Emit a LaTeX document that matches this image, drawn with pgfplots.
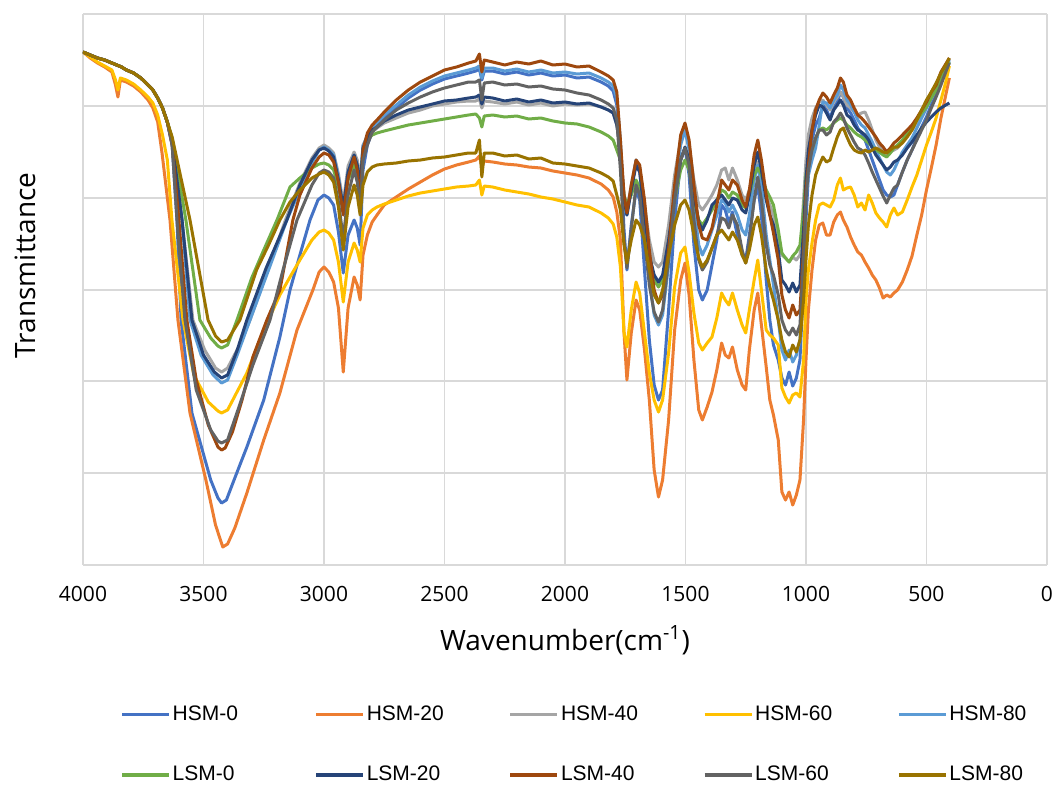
\documentclass[border=0pt]{standalone}
\usepackage{fontspec}
\setmainfont{Open Sans}
\newfontfamily\legendfont{Liberation Sans}
\usepackage{pgfplots}
\pgfplotsset{compat=1.18}
\definecolor{cA}{HTML}{4472C4}
\definecolor{cB}{HTML}{ED7D31}
\definecolor{cC}{HTML}{A5A5A5}
\definecolor{cD}{HTML}{FFC000}
\definecolor{cE}{HTML}{5B9BD5}
\definecolor{cF}{HTML}{70AD47}
\definecolor{cG}{HTML}{264478}
\definecolor{cH}{HTML}{9E480E}
\definecolor{cI}{HTML}{636363}
\definecolor{cJ}{HTML}{997300}
\definecolor{gridc}{HTML}{D9D9D9}
\begin{document}
\begin{tikzpicture}
\useasboundingbox (-41.5pt,-111pt) rectangle (486pt,282.5pt);
\begin{axis}[
  at={(0,0)}, anchor=south west,
  scale only axis, width=482pt, height=275.5pt,
  xmin=0, xmax=4000, x dir=reverse,
  ymin=14, ymax=565, y dir=reverse,
  xtick={0,500,1000,1500,2000,2500,3000,3500,4000},
  xticklabels={0,500,1000,1500,2000,2500,3000,3500,4000},
  ytick={14,106,198,290,381,473,565},
  yticklabels={,,,,,,},
  major tick length=0pt,
  grid=major,
  major grid style={gridc, line width=0.6pt},
  axis line style={draw=none},
  xticklabel style={font=\fontsize{10.5}{12}\selectfont, yshift=-7pt},
  xlabel={Wavenumber(cm\textsuperscript{-1})},
  ylabel={Transmittance},
  xlabel style={font=\fontsize{14}{16}\selectfont, at={(axis description cs:0.5,0)}, anchor=center, yshift=-37.5pt},
  ylabel style={font=\fontsize{14}{16}\selectfont, at={(axis description cs:0,0.544)}, anchor=center, yshift=29pt},
  legend columns=5,
  legend style={at={(axis description cs:0.0384,-0.2505)}, anchor=north west, draw=none, fill=none,
    inner sep=0pt, font=\legendfont\fontsize{10.5}{12}\selectfont,
    column sep=0pt, row sep=19.5pt, nodes={inner sep=1pt}},
  legend image code/.code={\draw[#1, line width=1.6pt] (0pt,0pt) -- (23.5pt,0pt);},
  every axis plot/.append style={line width=1.5pt, line join=round, mark=none},
]
% HSM-0
\addplot[cA] coordinates {(4000,52) (3970,55) (3940,58) (3910,60) (3880,63) (3860,65) (3840,67) (3820,70) (3790,73) (3760,78) (3730,85) (3710,90) (3690,98) (3670,108) (3650,122) (3630,145) (3610,220) (3593,320) (3548,413) (3470,480) (3440,498) (3425,503) (3405,500) (3370,478) (3320,447) (3250,400) (3183,337) (3141,290) (3100,255) (3058,220) (3025,200) (3000,195) (2980,198) (2960,205) (2940,232) (2920,273) (2900,235) (2875,220) (2862,228) (2850,245) (2838,170) (2820,145) (2800,132) (2780,127) (2750,118) (2700,108) (2650,98) (2600,90) (2550,84) (2500,79) (2450,76) (2400,73) (2370,71) (2355,69) (2345,80) (2335,71) (2300,71) (2250,74) (2200,72) (2150,75) (2100,73) (2050,76) (2000,75) (1950,78) (1900,77) (1850,82) (1820,86) (1800,91) (1785,105)
(1770,150) (1755,230) (1743,270) (1725,225) (1705,190) (1690,200) (1670,270) (1650,340) (1630,385) (1612,400) (1595,390) (1570,310) (1545,220) (1520,160) (1502,148) (1485,175) (1465,245) (1445,290) (1430,300) (1410,290) (1390,265) (1370,240) (1350,205) (1335,210) (1320,223) (1305,212) (1285,235) (1265,255) (1250,260) (1235,235) (1215,200) (1200,185) (1185,215) (1165,280) (1150,320) (1135,345) (1115,360) (1100,378) (1085,385) (1070,372) (1055,386) (1040,378) (1025,360) (1010,280) (1000,220) (990,175) (975,140) (960,125) (945,118)
(930,105) (915,110) (900,118) (885,108) (870,102) (857,92) (845,97) (830,108) (815,113) (800,120) (785,128) (770,133) (755,140) (740,150) (725,160) (710,170) (695,180) (680,190) (665,195) (650,197) (635,195) (620,185) (600,172) (580,160) (560,150) (540,138) (520,127) (500,117) (480,105) (460,95) (440,82) (420,70) (405,62)};
\addlegendentry{\makebox[70pt][l]{HSM-0}}
% HSM-20
\addplot[cB] coordinates {(4000,52) (3970,58) (3940,63) (3910,67) (3880,72) (3865,85) (3855,97) (3845,80) (3820,82) (3790,86) (3760,92) (3730,100) (3710,108) (3690,122) (3672,153) (3639,220) (3606,320) (3556,413) (3490,480) (3450,525) (3420,547) (3400,544) (3370,528) (3320,493) (3250,440) (3183,393) (3112,330) (3046,290) (3020,272) (3000,267) (2980,272) (2960,282) (2940,308) (2920,372) (2900,308) (2875,277) (2862,285) (2850,300) (2838,255) (2820,235) (2800,222) (2780,215) (2750,205) (2700,197) (2650,189) (2600,182) (2550,175) (2500,169) (2450,165) (2400,162) (2370,160) (2355,156) (2345,167) (2335,161) (2300,162) (2250,164) (2200,165) (2150,167) (2100,168) (2050,171) (2000,173) (1950,175) (1900,178) (1850,184) (1820,190) (1800,197) (1785,212)
(1770,240) (1755,333) (1743,380) (1725,333) (1705,300) (1690,310) (1670,350) (1650,400) (1630,470) (1612,497) (1595,480) (1570,420) (1545,330) (1520,280) (1502,263) (1485,295) (1465,360) (1445,410) (1430,420) (1410,407) (1390,392) (1370,370) (1350,343) (1335,355) (1320,358) (1305,347) (1285,370) (1265,385) (1250,390) (1235,350) (1215,310) (1200,293) (1185,325) (1165,367) (1150,400) (1135,415) (1115,440) (1100,492) (1085,500) (1070,492) (1055,505) (1040,495) (1025,480) (1010,420) (1000,360) (990,310) (975,270) (960,240) (945,225)
(930,223) (915,235) (900,235) (885,222) (870,215) (857,212) (845,220) (830,227) (815,237) (800,245) (785,252) (770,255) (755,262) (740,268) (725,275) (710,280) (695,288) (680,298) (665,295) (650,297) (635,293) (620,290) (600,282) (580,270) (560,256) (540,235) (520,215) (500,190) (480,168) (460,145) (440,118) (420,95) (405,78)};
\addlegendentry{\makebox[70pt][l]{HSM-20}}
% HSM-40
\addplot[cC] coordinates {(4000,52) (3970,55) (3940,58) (3910,60) (3880,63) (3860,65) (3840,67) (3820,70) (3790,73) (3760,78) (3730,85) (3710,90) (3690,98) (3670,108) (3650,122) (3630,140) (3589,220) (3544,320) (3495,350) (3450,368) (3425,372) (3400,368) (3350,345) (3307,320) (3230,268) (3160,220) (3100,183) (3050,158) (3020,148) (3000,145) (2980,148) (2960,153) (2940,174) (2920,203) (2900,166) (2875,152) (2862,160) (2850,180) (2838,145) (2820,138) (2800,132) (2780,128) (2750,123) (2700,118) (2650,113) (2600,110) (2550,106) (2500,104) (2450,102) (2400,101) (2370,101) (2355,99) (2345,108) (2335,101) (2300,102) (2250,104) (2200,102) (2150,105) (2100,103) (2050,106) (2000,104) (1950,105) (1900,104) (1850,107) (1820,110) (1800,113) (1785,125)
(1770,150) (1755,195) (1743,210) (1725,185) (1705,160) (1690,168) (1670,205) (1650,240) (1630,262) (1612,267) (1595,262) (1570,225) (1545,175) (1520,140) (1502,130) (1485,145) (1465,180) (1445,205) (1430,210) (1410,203) (1390,195) (1370,185) (1350,170) (1335,168) (1320,180) (1305,168) (1285,180) (1265,195) (1250,200) (1235,190) (1215,170) (1200,162) (1185,172) (1165,195) (1150,205) (1135,215) (1115,235) (1100,255) (1085,258) (1070,262) (1055,257) (1040,260) (1025,255) (1010,200) (1000,160) (990,135) (975,118) (960,108) (945,102)
(930,100) (915,105) (900,110) (885,102) (870,97) (857,92) (845,97) (830,105) (815,108) (800,112) (785,115) (770,113) (755,112) (740,120) (725,130) (710,140) (695,147) (680,152) (665,155) (650,152) (635,150) (620,148) (600,142) (580,135) (560,130) (540,122) (520,112) (500,103) (480,93) (460,85) (440,75) (420,66) (405,59)};
\addlegendentry{\makebox[70pt][l]{HSM-40}}
% HSM-60
\addplot[cD] coordinates {(4000,52) (3970,57) (3940,62) (3910,66) (3880,70) (3865,80) (3855,90) (3845,78) (3820,80) (3790,84) (3760,90) (3730,97) (3710,103) (3690,115) (3670,135) (3650,160) (3631,220) (3585,320) (3540,375) (3480,402) (3440,411) (3425,413) (3400,410) (3320,373) (3250,330) (3183,295) (3141,277) (3100,260) (3050,240) (3020,232) (3000,230) (2980,233) (2960,240) (2940,262) (2920,302) (2900,262) (2875,243) (2862,250) (2850,262) (2838,228) (2820,215) (2800,210) (2780,207) (2750,204) (2700,200) (2650,196) (2600,193) (2550,191) (2500,189) (2450,187) (2400,186) (2370,185) (2355,180) (2345,195) (2335,186) (2300,187) (2250,190) (2200,192) (2150,194) (2100,197) (2050,199) (2000,202) (1950,205) (1900,207) (1850,213) (1820,218) (1800,224) (1785,237)
(1770,267) (1755,333) (1743,347) (1725,310) (1705,282) (1690,293) (1670,333) (1650,373) (1630,400) (1612,412) (1595,400) (1570,353) (1545,287) (1520,253) (1502,247) (1485,273) (1465,313) (1445,343) (1430,350) (1410,343) (1390,337) (1370,318) (1350,293) (1335,300) (1320,305) (1305,293) (1285,310) (1265,325) (1250,333) (1235,310) (1215,280) (1200,260) (1185,290) (1165,330) (1150,335) (1135,338) (1115,345) (1100,388) (1085,397) (1070,403) (1055,395) (1040,393) (1025,397) (1010,360) (1000,300) (990,270) (975,243) (960,220) (945,205)
(930,203) (915,205) (900,207) (885,200) (870,185) (857,178) (845,190) (830,188) (815,187) (800,195) (785,207) (770,203) (755,210) (740,195) (725,203) (710,213) (695,218) (680,222) (665,227) (650,215) (635,208) (620,215) (600,212) (580,200) (560,187) (540,175) (520,160) (500,145) (480,132) (460,118) (440,100) (420,82) (405,66)};
\addlegendentry{\makebox[70pt][l]{HSM-60}}
% HSM-80
\addplot[cE] coordinates {(4000,52) (3970,55) (3940,58) (3910,60) (3880,63) (3860,65) (3840,67) (3820,70) (3790,73) (3760,78) (3730,85) (3710,90) (3690,98) (3670,108) (3650,122) (3630,142) (3589,220) (3556,320) (3510,355) (3460,375) (3425,383) (3400,380) (3360,355) (3307,320) (3230,270) (3154,220) (3100,190) (3050,163) (3020,150) (3000,147) (2980,150) (2960,155) (2940,177) (2920,210) (2900,172) (2875,155) (2862,165) (2850,185) (2838,146) (2820,135) (2800,128) (2780,123) (2750,115) (2700,105) (2650,95) (2600,87) (2550,81) (2500,76) (2450,73) (2400,70) (2370,68) (2355,66) (2345,78) (2335,68) (2300,68) (2250,71) (2200,69) (2150,72) (2100,70) (2050,73) (2000,72) (1950,74) (1900,73) (1850,78) (1820,82) (1800,86) (1785,98)
(1770,140) (1755,205) (1743,215) (1725,190) (1705,160) (1690,170) (1670,225) (1650,280) (1630,315) (1612,325) (1595,315) (1570,265) (1545,195) (1520,145) (1502,130) (1485,150) (1465,205) (1445,245) (1430,255) (1410,245) (1390,230) (1370,215) (1350,200) (1335,203) (1320,212) (1305,205) (1285,215) (1265,230) (1250,235) (1235,215) (1215,180) (1200,165) (1185,185) (1165,235) (1150,260) (1135,285) (1115,320) (1100,350) (1085,360) (1070,350) (1055,362) (1040,355) (1025,340) (1010,260) (1000,200) (990,175) (975,160) (960,148) (945,125)
(930,102) (915,103) (900,108) (885,100) (870,95) (857,85) (845,90) (830,100) (815,105) (800,112) (785,120) (770,125) (755,128) (740,135) (725,142) (710,150) (695,158) (680,165) (665,172) (650,175) (635,170) (620,162) (600,152) (580,145) (560,138) (540,128) (520,118) (500,108) (480,98) (460,88) (440,78) (420,68) (405,60)};
\addlegendentry{\makebox[70pt][l]{HSM-80}}
% LSM-0
\addplot[cF] coordinates {(4000,52) (3970,55) (3940,58) (3910,60) (3880,63) (3860,65) (3840,67) (3820,70) (3790,73) (3760,78) (3730,85) (3710,90) (3690,98) (3670,108) (3650,122) (3630,138) (3573,220) (3515,320) (3470,338) (3440,346) (3425,348) (3400,345) (3361,320) (3300,278) (3250,250) (3195,220) (3141,187) (3100,178) (3050,168) (3020,164) (3000,163) (2980,165) (2960,170) (2940,187) (2920,212) (2900,180) (2875,165) (2862,172) (2850,188) (2838,150) (2820,140) (2800,135) (2780,133) (2750,131) (2700,128) (2650,125) (2600,123) (2550,121) (2500,119) (2450,117) (2400,115) (2370,114) (2355,118) (2345,127) (2335,116) (2300,115) (2250,117) (2200,116) (2150,119) (2100,118) (2050,121) (2000,123) (1950,124) (1900,127) (1850,132) (1820,136) (1800,140) (1785,150)
(1770,160) (1755,195) (1743,205) (1725,195) (1705,180) (1690,188) (1670,220) (1650,255) (1630,280) (1612,287) (1595,280) (1570,245) (1545,200) (1520,170) (1502,160) (1485,170) (1465,200) (1445,220) (1430,225) (1410,218) (1390,210) (1370,200) (1350,190) (1335,192) (1320,198) (1305,192) (1285,195) (1265,205) (1250,208) (1235,195) (1215,175) (1200,168) (1185,175) (1165,190) (1150,197) (1135,205) (1115,230) (1100,253) (1085,258) (1070,262) (1055,256) (1040,252) (1025,245) (1010,210) (1000,175) (990,160) (975,150) (960,138) (945,130)
(930,128) (915,130) (900,127) (885,123) (870,120) (857,118) (845,120) (830,125) (815,128) (800,132) (785,135) (770,137) (755,140) (740,143) (725,147) (710,150) (695,152) (680,155) (665,157) (650,153) (635,148) (620,145) (600,140) (580,133) (560,127) (540,120) (520,113) (500,107) (480,98) (460,90) (440,80) (420,70) (405,62)};
\addlegendentry{\makebox[70pt][l]{LSM-0}}
% LSM-20
\addplot[cG] coordinates {(4000,52) (3970,55) (3940,58) (3910,60) (3880,63) (3860,65) (3840,67) (3820,70) (3790,73) (3760,78) (3730,85) (3710,90) (3690,98) (3670,108) (3650,122) (3630,142) (3589,220) (3548,320) (3500,355) (3455,372) (3425,378) (3400,375) (3360,350) (3320,320) (3240,268) (3154,220) (3100,185) (3050,160) (3020,150) (3000,148) (2980,151) (2960,157) (2940,180) (2920,207) (2900,172) (2875,155) (2862,165) (2850,185) (2838,148) (2820,138) (2800,130) (2780,127) (2750,121) (2700,115) (2650,110) (2600,107) (2550,104) (2500,101) (2450,100) (2400,98) (2370,97) (2355,95) (2345,104) (2335,97) (2300,98) (2250,101) (2200,99) (2150,102) (2100,100) (2050,103) (2000,102) (1950,104) (1900,103) (1850,107) (1820,110) (1800,113) (1785,125)
(1770,150) (1755,200) (1743,215) (1725,190) (1705,165) (1690,172) (1670,215) (1650,255) (1630,275) (1612,282) (1595,275) (1570,240) (1545,195) (1520,160) (1502,147) (1485,160) (1465,195) (1445,222) (1430,230) (1410,220) (1390,205) (1370,200) (1350,195) (1335,200) (1320,205) (1305,198) (1285,200) (1265,210) (1250,213) (1235,195) (1215,165) (1200,152) (1185,170) (1165,200) (1150,215) (1135,225) (1115,250) (1100,280) (1085,285) (1070,292) (1055,283) (1040,292) (1025,285) (1010,230) (1000,180) (990,150) (975,130) (960,115) (945,105)
(930,107) (915,113) (900,120) (885,110) (870,105) (857,100) (845,105) (830,115) (815,118) (800,125) (785,130) (770,132) (755,135) (740,140) (725,148) (710,155) (695,160) (680,165) (665,170) (650,167) (635,162) (620,160) (600,155) (580,148) (560,142) (540,135) (520,128) (500,122) (480,117) (460,112) (440,108) (420,105) (405,103)};
\addlegendentry{\makebox[70pt][l]{LSM-20}}
% LSM-40
\addplot[cH] coordinates {(4000,52) (3970,55) (3940,58) (3910,60) (3880,63) (3860,65) (3840,67) (3820,70) (3790,73) (3760,78) (3730,85) (3710,90) (3690,98) (3670,108) (3650,122) (3630,145) (3602,220) (3569,320) (3530,380) (3480,425) (3440,447) (3425,450) (3410,448) (3380,432) (3340,400) (3295,357) (3237,320) (3183,290) (3129,220) (3100,195) (3050,168) (3020,157) (3000,153) (2980,155) (2960,162) (2940,182) (2920,215) (2900,178) (2875,157) (2862,170) (2850,205) (2838,150) (2820,133) (2800,125) (2780,120) (2750,112) (2700,100) (2650,90) (2600,82) (2550,76) (2500,70) (2450,67) (2400,63) (2370,61) (2355,54) (2345,72) (2335,60) (2300,62) (2250,65) (2200,62) (2150,64) (2100,61) (2050,65) (2000,64) (1950,67) (1900,66) (1850,72) (1820,76) (1800,80) (1785,92)
(1770,140) (1755,195) (1743,213) (1725,185) (1705,160) (1690,165) (1670,200) (1650,250) (1630,290) (1612,303) (1595,295) (1570,250) (1545,185) (1520,135) (1502,123) (1485,140) (1465,185) (1445,225) (1430,238) (1410,240) (1390,228) (1370,205) (1350,180) (1335,185) (1320,190) (1305,180) (1285,185) (1265,200) (1250,207) (1235,190) (1215,155) (1200,140) (1185,160) (1165,195) (1150,215) (1135,233) (1115,260) (1100,295) (1085,310) (1070,318) (1055,305) (1040,315) (1025,310) (1010,250) (1000,190) (990,165) (975,130) (960,110) (945,100)
(930,93) (915,97) (900,103) (885,95) (870,88) (857,78) (845,82) (830,95) (815,100) (800,108) (785,115) (770,118) (755,122) (740,127) (725,132) (710,137) (695,143) (680,147) (665,152) (650,148) (635,143) (620,140) (600,135) (580,130) (560,125) (540,118) (520,110) (500,102) (480,92) (460,85) (440,72) (420,64) (405,58)};
\addlegendentry{\makebox[70pt][l]{LSM-40}}
% LSM-60
\addplot[cI] coordinates {(4000,52) (3970,55) (3940,58) (3910,60) (3880,63) (3860,65) (3840,67) (3820,70) (3790,73) (3760,78) (3730,85) (3710,90) (3690,98) (3670,108) (3650,122) (3630,145) (3610,220) (3577,320) (3530,390) (3470,430) (3440,441) (3425,443) (3400,440) (3350,405) (3295,365) (3224,320) (3170,270) (3112,220) (3050,185) (3020,173) (3000,170) (2980,172) (2960,178) (2940,202) (2920,238) (2900,195) (2875,170) (2862,182) (2850,210) (2838,160) (2820,145) (2800,132) (2780,127) (2750,120) (2700,110) (2650,103) (2600,97) (2550,92) (2500,88) (2450,85) (2400,82) (2370,82) (2355,80) (2345,100) (2335,83) (2300,82) (2250,85) (2200,84) (2150,87) (2100,86) (2050,89) (2000,90) (1950,93) (1900,95) (1850,100) (1820,104) (1800,108) (1785,120)
(1770,170) (1755,240) (1743,268) (1725,230) (1705,185) (1690,195) (1670,240) (1650,285) (1630,312) (1612,322) (1595,310) (1570,260) (1545,200) (1520,160) (1502,148) (1485,165) (1465,220) (1445,260) (1430,270) (1410,262) (1390,248) (1370,235) (1350,218) (1335,220) (1320,228) (1305,215) (1285,225) (1265,250) (1250,263) (1235,240) (1215,200) (1200,177) (1185,200) (1165,245) (1150,265) (1135,275) (1115,295) (1100,320) (1085,330) (1070,335) (1055,328) (1040,335) (1025,325) (1010,260) (1000,200) (990,170) (975,150) (960,138) (945,130)
(930,130) (915,135) (900,132) (885,122) (870,118) (857,113) (845,118) (830,128) (815,135) (800,142) (785,148) (770,150) (755,155) (740,163) (725,172) (710,180) (695,188) (680,196) (665,203) (650,195) (635,188) (620,185) (600,172) (580,160) (560,150) (540,140) (520,130) (500,120) (480,108) (460,97) (440,85) (420,72) (405,63)};
\addlegendentry{\makebox[70pt][l]{LSM-60}}
% LSM-80
\addplot[cJ] coordinates {(4000,52) (3970,55) (3940,58) (3910,60) (3880,63) (3860,65) (3840,67) (3820,70) (3790,73) (3760,78) (3730,85) (3710,90) (3690,98) (3670,108) (3650,122) (3630,137) (3556,220) (3481,320) (3450,336) (3425,342) (3400,340) (3349,320) (3280,270) (3230,245) (3183,220) (3141,202) (3100,190) (3050,178) (3020,174) (3000,172) (2980,175) (2960,182) (2940,207) (2920,250) (2900,207) (2875,185) (2862,195) (2850,215) (2838,185) (2820,172) (2800,167) (2780,165) (2750,164) (2700,163) (2650,161) (2600,160) (2550,158) (2500,157) (2450,155) (2400,153) (2370,153) (2355,140) (2345,177) (2335,153) (2300,153) (2250,156) (2200,155) (2150,159) (2100,158) (2050,163) (2000,164) (1950,166) (1900,168) (1850,173) (1820,177) (1800,181) (1785,195)
(1770,210) (1755,245) (1743,263) (1725,240) (1705,220) (1690,225) (1670,240) (1650,270) (1630,295) (1612,303) (1595,290) (1570,255) (1545,225) (1520,205) (1502,200) (1485,210) (1465,235) (1445,258) (1430,267) (1410,260) (1390,248) (1370,235) (1350,230) (1335,235) (1320,240) (1305,232) (1285,240) (1265,255) (1250,263) (1235,250) (1215,225) (1200,217) (1185,235) (1165,270) (1150,287) (1135,300) (1115,320) (1100,340) (1085,352) (1070,357) (1055,345) (1040,352) (1025,340) (1010,300) (1000,260) (990,225) (975,195) (960,175) (945,165)
(930,157) (915,162) (900,160) (885,148) (870,137) (857,130) (845,128) (830,137) (815,145) (800,150) (785,152) (770,153) (755,150) (740,152) (725,150) (710,148) (695,150) (680,152) (665,153) (650,150) (635,147) (620,147) (600,143) (580,137) (560,130) (540,120) (520,110) (500,100) (480,92) (460,83) (440,73) (420,65) (405,58)};
\addlegendentry{\makebox[70pt][l]{LSM-80}}
\end{axis}
\end{tikzpicture}
\end{document}
